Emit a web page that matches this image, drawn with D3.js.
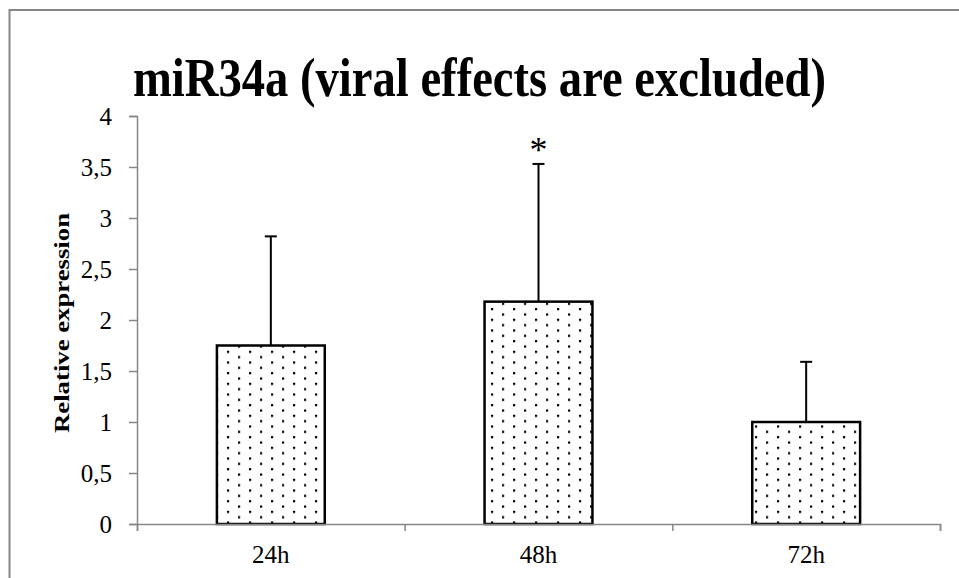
<!DOCTYPE html>
<html>
<head>
<meta charset="utf-8">
<script src="https://cdn.jsdelivr.net/npm/d3@7"></script>
<style>
  body { margin: 0; background: #fff; }
  svg text { font-family: "Liberation Serif", "Times New Roman", serif; fill: #000; }
</style>
</head>
<body>
<svg id="chart" width="959" height="578"></svg>
<script>
// data
const categories = ['24h', '48h', '72h'];
const means = [1.75, 2.18, 1.0];
const errors = [1.07, 1.35, 0.59];
const marks = ['', '*', ''];
const yTicks = [0, 0.5, 1, 1.5, 2, 2.5, 3, 3.5, 4];

const svg = d3.select('#chart');
const margin = {top: 116, right: 19, bottom: 54, left: 137};
const width = +svg.attr('width') - margin.left - margin.right;
const height = +svg.attr('height') - margin.top - margin.bottom;

// dotted fill
const defs = svg.append('defs');
const pat = defs.append('pattern')
  .attr('id', 'dots')
  .attr('patternUnits', 'userSpaceOnUse')
  .attr('width', 22).attr('height', 10.67)
  .attr('x', 2).attr('y', 0);
pat.append('rect').attr('width', 22).attr('height', 10.67).attr('fill', '#fff');
pat.append('rect').attr('x', 0).attr('y', 0).attr('width', 2.2).attr('height', 2.2).attr('fill', '#000');
pat.append('rect').attr('x', 11).attr('y', 5.33).attr('width', 2.2).attr('height', 2.2).attr('fill', '#000');

// outer frame
svg.append('rect')
  .attr('x', 9.5).attr('y', 10)
  .attr('width', 980).attr('height', 620)
  .attr('fill', 'none')
  .attr('stroke', '#868686')
  .attr('stroke-width', 2);

svg.append('text')
  .attr('x', 479.5)
  .attr('y', 96)
  .attr('text-anchor', 'middle')
  .attr('font-size', 55)
  .attr('font-weight', 'bold')
  .attr('textLength', 693)
  .attr('lengthAdjust', 'spacingAndGlyphs')
  .text('miR34a (viral effects are excluded)');

const g = svg.append('g').attr('transform', 'translate(' + margin.left + ',' + margin.top + ')');

const x = d3.scaleBand().domain(categories).range([0, width]).paddingInner(0.597).paddingOuter(0.2985);
const xb = d3.scaleLinear().domain([0, categories.length]).range([0, width]);
const y = d3.scaleLinear().domain([0, 4]).range([height, 0]);

// bars
g.selectAll('rect.bar')
  .data(means)
  .enter().append('rect')
  .attr('class', 'bar')
  .attr('x', (d, i) => x(categories[i]))
  .attr('y', d => y(d))
  .attr('width', x.bandwidth())
  .attr('height', d => height - y(d))
  .attr('fill', 'url(#dots)')
  .attr('stroke', '#000')
  .attr('stroke-width', 2.5);

// error bars (upper only)
const eb = g.selectAll('g.err').data(means).enter().append('g').attr('class', 'err');
eb.append('line')
  .attr('x1', (d, i) => x(categories[i]) + x.bandwidth() / 2)
  .attr('x2', (d, i) => x(categories[i]) + x.bandwidth() / 2)
  .attr('y1', d => y(d))
  .attr('y2', (d, i) => y(d + errors[i]))
  .attr('stroke', '#000').attr('stroke-width', 2);
eb.append('line')
  .attr('x1', (d, i) => x(categories[i]) + x.bandwidth() / 2 - 6)
  .attr('x2', (d, i) => x(categories[i]) + x.bandwidth() / 2 + 6)
  .attr('y1', (d, i) => y(d + errors[i]))
  .attr('y2', (d, i) => y(d + errors[i]))
  .attr('stroke', '#000').attr('stroke-width', 2);

g.selectAll('text.sig')
  .data(means)
  .enter().append('text')
  .attr('class', 'sig')
  .attr('x', (d, i) => x(categories[i]) + x.bandwidth() / 2)
  .attr('y', (d, i) => y(d + errors[i]) - 2)
  .attr('text-anchor', 'middle')
  .attr('font-size', 36)
  .text((d, i) => marks[i]);

// axes
const yAxis = g.append('g')
  .call(d3.axisLeft(y).tickValues(yTicks).tickSize(8).tickPadding(17)
    .tickFormat(d => String(d).replace('.', ',')));
yAxis.selectAll('text')
  .attr('font-size', 25)
  .attr('font-family', '"Liberation Serif", serif');

const xTickAxis = g.append('g')
  .attr('transform', 'translate(0,' + height + ')')
  .call(d3.axisBottom(xb).ticks(categories.length).tickSize(7).tickFormat(''));

const xAxis = g.append('g')
  .attr('transform', 'translate(0,' + height + ')')
  .call(d3.axisBottom(x).tickSize(0).tickPadding(21));
xAxis.select('.domain').remove();
xAxis.selectAll('text')
  .attr('font-size', 25)
  .attr('font-family', '"Liberation Serif", serif');

svg.selectAll('.domain, .tick line').attr('stroke', '#868686').attr('stroke-width', 1.5);

svg.append('text')
  .attr('transform', 'translate(69,323) rotate(-90)')
  .attr('text-anchor', 'middle')
  .attr('font-size', 21)
  .attr('font-weight', 'bold')
  .attr('textLength', 220)
  .attr('lengthAdjust', 'spacingAndGlyphs')
  .text('Relative expression');
</script>
</body>
</html>
